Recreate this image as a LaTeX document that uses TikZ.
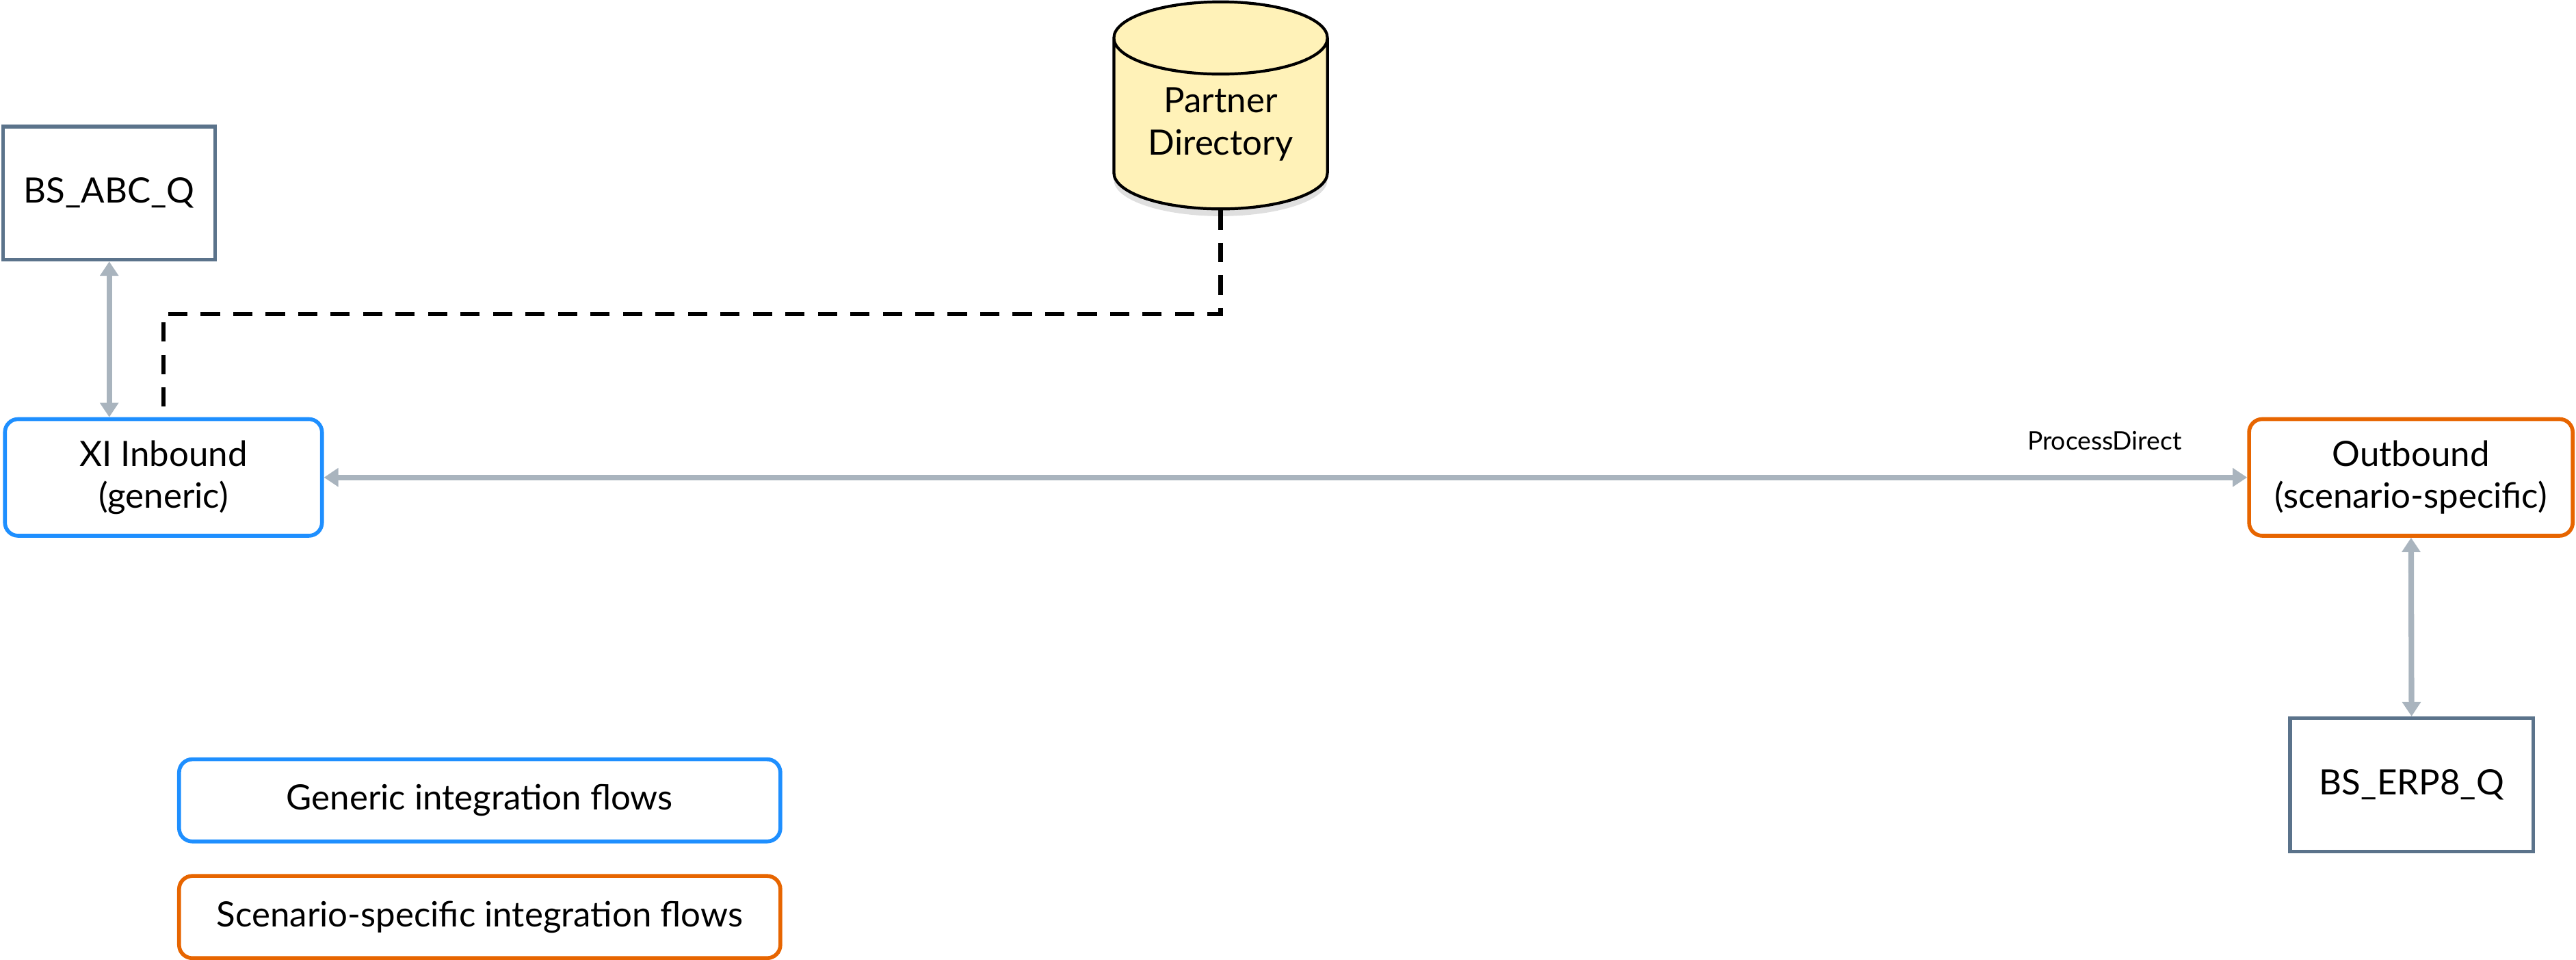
\documentclass[tikz,border=0pt]{standalone}
\usepackage{fontspec}
\setmainfont{Lato}
\usetikzlibrary{positioning}
\usetikzlibrary{arrows.meta}
\usetikzlibrary{shapes.geometric}
\usetikzlibrary{shadows}

\definecolor{sysgray}{HTML}{5B738B}
\definecolor{genblue}{HTML}{1E8FFF}
\definecolor{scnorange}{HTML}{E76500}
\definecolor{conngray}{HTML}{A9B4BE}
\definecolor{pdbody}{HTML}{FFF2B8}
\definecolor{pdtop}{HTML}{FFF7D6}

\begin{document}
\begin{tikzpicture}[
    x=0.024cm, y=-0.024cm,
    every node/.style={font=\fontsize{14.5}{17.5}\selectfont, align=center, inner sep=0pt},
    sysbox/.style={rectangle, draw=sysgray, line width=1.5pt, fill=white},
    genflow/.style={rectangle, rounded corners=5.5pt, draw=genblue, line width=1.6pt, fill=white},
    scnflow/.style={rectangle, rounded corners=5.5pt, draw=scnorange, line width=1.6pt, fill=white},
    conn/.style={draw=conngray, line width=2.3pt, {Triangle[length=6pt,width=7.5pt]}-{Triangle[length=6pt,width=7.5pt]}},
    lookup/.style={line width=1.8pt, dash pattern=on 8pt off 5.5pt}
]
    \useasboundingbox (0,0) rectangle (1568,584);

    % Systems
    \node[sysbox, minimum width=129*0.024cm, minimum height=81*0.024cm] (abc) at (66.5,117.5) {BS\_ABC\_Q};
    \node[sysbox, minimum width=148*0.024cm, minimum height=81*0.024cm] (erp) at (1468,477.5) {BS\_ERP8\_Q};

    % Partner Directory
    \node[cylinder, shape border rotate=90, aspect=0.5, draw=black, line width=1.2pt, fill=pdbody,
          drop shadow={opacity=0.25, shadow xshift=0pt, shadow yshift=-3pt},
          minimum width=130*0.024cm, minimum height=126*0.024cm, anchor=south] (pd) at (743,128) {Partner\\Directory};

    % Integration flows
    \node[genflow, minimum width=193*0.024cm, minimum height=71*0.024cm] (inb) at (99.5,290.5) {XI Inbound\\(generic)};
    \node[scnflow, minimum width=197*0.024cm, minimum height=71*0.024cm] (outb) at (1467.5,290.5) {Outbound\\(scenario-specific)};

    % Legend
    \node[genflow, minimum width=366*0.024cm, minimum height=50*0.024cm] (lgen) at (292,487) {Generic integration flows};
    \node[scnflow, minimum width=366*0.024cm, minimum height=50*0.024cm] (lscn) at (292,558) {Scenario-specific integration flows};

    % Connections
    \draw[conn] (abc.south) -- (abc.south |- inb.north);
    \draw[conn] (inb) -- (outb);
    \draw[conn] (outb) -- (erp);
    \node[font=\fontsize{10.6}{12}\selectfont] (pdlabel) at (1281,268) {ProcessDirect};

    % Partner Directory lookup
    \coordinate (bend) at (743,191);
    \draw[lookup] (pd.south) -- (bend) -| (inb.north);
\end{tikzpicture}
\end{document}
